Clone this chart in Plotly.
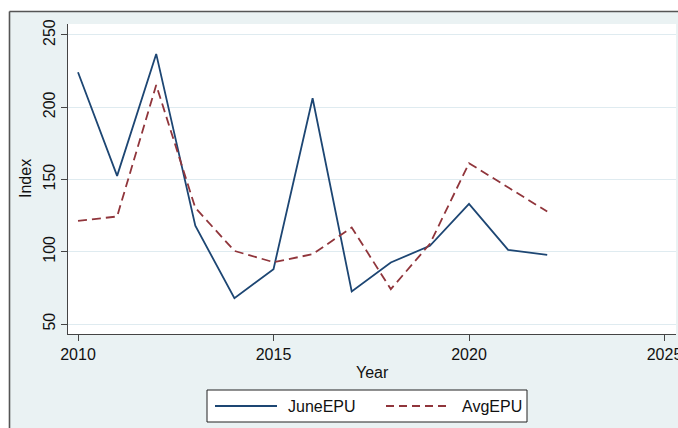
import plotly.graph_objects as go

years = list(range(2010, 2023))
june_epu = [224.2, 152.5, 236.9, 118.0, 67.9, 88.0, 206.2, 72.5, 92.6, 104.1, 133.1, 101.3, 97.9]
avg_epu = [121.4, 124.4, 215.4, 130.4, 100.6, 92.8, 98.3, 116.8, 74.1, 105.5, 161.3, 144.5, 127.8]
series_names = ["JuneEPU", "AvgEPU"]
x_ticks = [2010, 2015, 2020, 2025]
y_ticks = [50, 100, 150, 200, 250]

BLUE = "#1d4673"
RED = "#90353b"
BG = "#eaf2f3"
AX = "#444444"
FONT = "Liberation Sans, Arial, sans-serif"

W, H = 678, 428
L, R, T, B = 68, 676, 24, 334  # plot area pixel bounds


def px(xpix):
    return (xpix - L) / (R - L)


def py(ypix):
    return (B - ypix) / (B - T)


fig = go.Figure()
fig.add_trace(go.Scatter(x=years, y=june_epu, mode="lines", name=series_names[0],
                         line=dict(color=BLUE, width=1.8), showlegend=False))
fig.add_trace(go.Scatter(x=years, y=avg_epu, mode="lines", name=series_names[1],
                         line=dict(color=RED, width=1.8, dash="9px,5px"), showlegend=False))

shapes = [
    dict(type="rect", xref="paper", yref="paper", x0=px(-5), x1=px(W + 5), y0=py(11), y1=py(-5),
         fillcolor="white", line=dict(width=0), layer="below"),
    dict(type="rect", xref="paper", yref="paper", x0=px(-5), x1=px(9), y0=py(H + 5), y1=py(-5),
         fillcolor="white", line=dict(width=0), layer="below"),
    dict(type="line", xref="paper", yref="paper", x0=px(9.5), x1=px(W + 5), y0=py(11.5), y1=py(11.5),
         line=dict(color="#555555", width=1.6)),
    dict(type="line", xref="paper", yref="paper", x0=px(9.5), x1=px(9.5), y0=py(11.5), y1=py(H + 5),
         line=dict(color="#555555", width=1.6)),
    dict(type="rect", xref="paper", yref="paper", x0=px(207), x1=px(527), y0=py(422), y1=py(390),
         fillcolor="white", line=dict(color="#222222", width=1)),
    dict(type="line", xref="paper", yref="paper", x0=px(215), x1=px(277), y0=py(406), y1=py(406),
         line=dict(color=BLUE, width=1.8)),
    dict(type="line", xref="paper", yref="paper", x0=px(386), x1=px(448), y0=py(406), y1=py(406),
         line=dict(color=RED, width=1.8, dash="8px,5px")),
]

annotations = [
    dict(text=series_names[0], xref="paper", yref="paper", x=px(286), y=py(406), xanchor="left",
         yanchor="middle", showarrow=False, font=dict(family=FONT, size=16, color="#111111")),
    dict(text=series_names[1], xref="paper", yref="paper", x=px(460), y=py(406), xanchor="left",
         yanchor="middle", showarrow=False, font=dict(family=FONT, size=16, color="#111111")),
    dict(text="Year", xref="paper", yref="paper", x=px(372), y=py(372), xanchor="center",
         yanchor="middle", showarrow=False, font=dict(family=FONT, size=16, color="#111111")),
    dict(text="Index", xref="paper", yref="paper", x=px(25), y=py(179), xanchor="center",
         yanchor="middle", textangle=-90, showarrow=False,
         font=dict(family=FONT, size=16, color="#111111")),
]

fig.update_layout(
    template="none",
    width=W, height=H,
    margin=dict(l=L, r=W - R, t=T, b=H - B, pad=0, autoexpand=False),
    paper_bgcolor=BG, plot_bgcolor="white",
    font=dict(family=FONT, size=16, color="#111111"),
    shapes=shapes, annotations=annotations,
    showlegend=False,
    xaxis=dict(range=[2009.744, 2025.294], tickvals=x_ticks, ticks="outside", ticklen=6,
               tickcolor=AX, tickwidth=1, showline=True, linecolor=AX, linewidth=1.2,
               showgrid=False, zeroline=False, tickfont=dict(size=16), automargin=False,
               ticklabeloverflow="allow"),
    yaxis=dict(range=[43.1, 257.6], tickvals=y_ticks, ticks="outside", ticklen=6,
               tickcolor=AX, tickwidth=1, showline=True, linecolor=AX, linewidth=1.2,
               showgrid=True, gridcolor="#dfebf0", gridwidth=1, zeroline=False,
               tickangle=-90, tickfont=dict(size=16), automargin=False,
               ticklabeloverflow="allow"),
)

fig.write_html("out.html", config={"displayModeBar": False},
               post_script="document.body.style.margin='0';document.body.style.overflow='hidden';")
